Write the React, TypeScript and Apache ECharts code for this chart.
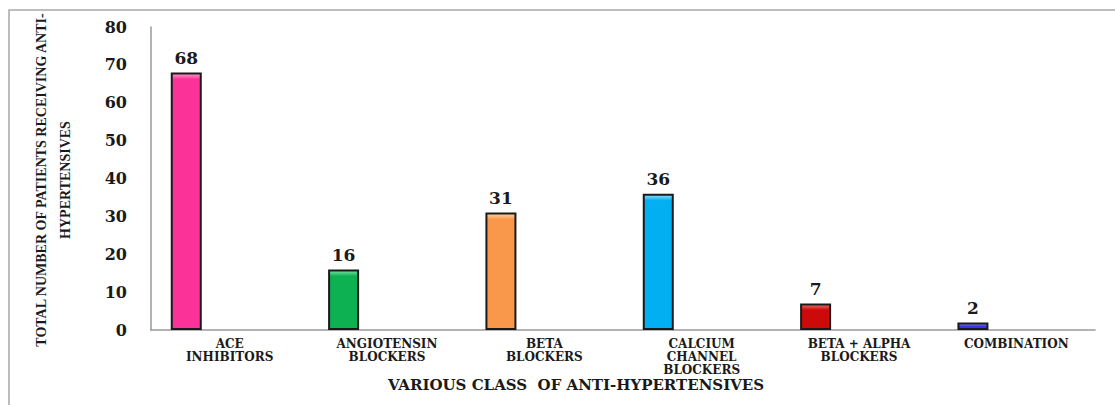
import React, { useEffect, useRef } from "react";
import * as echarts from "echarts";

const categories = [
  "ACE\nINHIBITORS",
  "ANGIOTENSIN\nBLOCKERS",
  "BETA\nBLOCKERS",
  "CALCIUM\nCHANNEL\nBLOCKERS",
  "BETA + ALPHA\nBLOCKERS",
  "COMBINATION",
];
const patients = [68, 16, 31, 36, 7, 2];
const barColors = ["#FB3399", "#0DB152", "#F9984A", "#02B0F1", "#CC0A0A", "#3535F2"];
const barHighlights = ["#FF9CCC", "#7FE6A8", "#FFD69E", "#8FE0FF", "#F07070", "#9C9CFF"];
const yTicks = { min: 0, max: 80, interval: 10 };
const yAxisTitle = "TOTAL NUMBER OF PATIENTS RECEIVING ANTI-\nHYPERTENSIVES";
const xAxisTitle = "VARIOUS CLASS  OF ANTI-HYPERTENSIVES";

const serifBold = "'Liberation Serif', 'Times New Roman', serif";
const wideSerif = "'DejaVu Serif', 'Liberation Serif', serif";

export default function App() {
  const ref = useRef<HTMLDivElement>(null);
  useEffect(() => {
    if (!ref.current) return;
    const chart = echarts.init(ref.current, null, { renderer: "svg" });
    const data = patients.map((v, i) => ({
      value: v,
      itemStyle: {
        color: new echarts.graphic.LinearGradient(0, 0, 0, 1, [
          { offset: 0, color: barHighlights[i] },
          { offset: Math.min(0.5, 6 / Math.max(v * 3.8, 1)), color: barColors[i] },
          { offset: 1, color: barColors[i] },
        ]),
      },
    }));
    chart.setOption({
      animation: false,
      backgroundColor: "#ffffff",
      grid: { left: 151, right: 20, top: 27, bottom: 75, containLabel: false },
      xAxis: {
        type: "category",
        data: categories,
        axisLine: { show: true, lineStyle: { color: "#9a9a9a", width: 1.5 } },
        axisTick: { show: false },
        axisLabel: {
          interval: 0,
          margin: 7,
          color: "#1a1a1a",
          fontFamily: wideSerif,
          fontWeight: "bold",
          fontSize: 12,
          lineHeight: 13,
          align: "center",
        },
      },
      yAxis: {
        type: "value",
        min: yTicks.min,
        max: yTicks.max,
        interval: yTicks.interval,
        splitLine: { show: false },
        axisTick: { show: false },
        axisLine: { show: true, lineStyle: { color: "#9a9a9a", width: 1.5 } },
        axisLabel: {
          margin: 24,
          color: "#1a1a1a",
          fontFamily: wideSerif,
          fontWeight: "bold",
          fontSize: 16,
        },
      },
      series: [
        {
          type: "bar",
          data,
          barWidth: 31,
          barGap: "180%",
          itemStyle: { borderColor: "#1a1a1a", borderWidth: 2 },
          label: {
            show: true,
            position: "top",
            distance: 6,
            color: "#1a1a1a",
            fontFamily: wideSerif,
            fontWeight: "bold",
            fontSize: 17,
          },
        },
        {
          type: "bar",
          data: [],
          barWidth: 31,
          barGap: "180%",
        },
      ],
      graphic: [
        {
          type: "rect",
          shape: { x: 9, y: 10, width: 1200, height: 500 },
          style: { fill: "none", stroke: "#a8a8a8", lineWidth: 1.5 },
          silent: true,
          z: -1,
        },
        {
          type: "text",
          x: 53,
          y: 180,
          rotation: Math.PI / 2,
          style: {
            text: yAxisTitle,
            align: "center",
            verticalAlign: "middle",
            fontFamily: serifBold,
            fontWeight: "bold",
            fontSize: 14,
            lineHeight: 24,
            fill: "#1a1a1a",
          },
        },
        {
          type: "text",
          x: 576,
          y: 385,
          style: {
            text: xAxisTitle,
            align: "center",
            verticalAlign: "middle",
            fontFamily: wideSerif,
            fontWeight: "bold",
            fontSize: 15,
            fill: "#1a1a1a",
          },
        },
      ],
    });
    return () => chart.dispose();
  }, []);
  return (
    <div
      ref={ref}
      style={{ position: "absolute", left: 0, top: 0, width: 1115, height: 405 }}
    />
  );
}
